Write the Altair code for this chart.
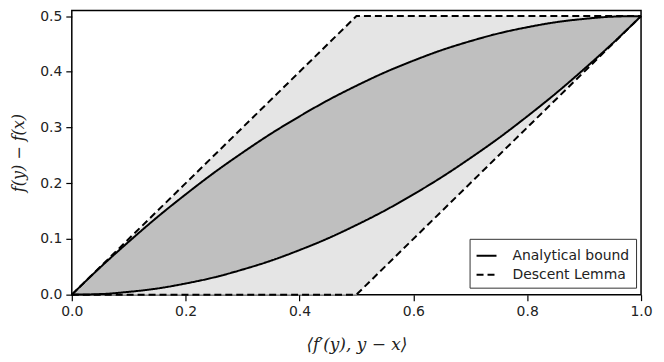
import altair as alt
import pandas as pd

# Grid of x positions for the analytical bound curves
xs = [0.0, 0.05, 0.1, 0.15, 0.2, 0.25, 0.3, 0.35, 0.4, 0.45, 0.5,
      0.55, 0.6, 0.65, 0.7, 0.75, 0.8, 0.85, 0.9, 0.95, 1.0]
upper_curve = [0.0, 0.049, 0.095, 0.139, 0.18, 0.219, 0.255, 0.289, 0.32, 0.349, 0.375,
               0.399, 0.42, 0.439, 0.455, 0.469, 0.48, 0.489, 0.495, 0.499, 0.5]
lower_curve = [0.0, 0.001, 0.005, 0.011, 0.02, 0.031, 0.045, 0.061, 0.08, 0.101, 0.125,
               0.151, 0.18, 0.211, 0.245, 0.281, 0.32, 0.361, 0.405, 0.451, 0.5]

# Descent lemma bounds (piecewise linear)
dl_x = [0.0, 0.5, 1.0]
dl_upper = [0.0, 0.5, 0.5]
dl_lower = [0.0, 0.0, 0.5]

series_names = ["Analytical bound", "Descent Lemma"]
x_ticks = [0.0, 0.2, 0.4, 0.6, 0.8, 1.0]
y_ticks = [0.0, 0.1, 0.2, 0.3, 0.4, 0.5]

band_light = pd.DataFrame({"x": dl_x, "hi": dl_upper, "lo": dl_lower})
band_dark = pd.DataFrame({"x": xs, "hi": upper_curve, "lo": lower_curve})

rows_a = []
for x, y in zip(xs, upper_curve):
    rows_a.append({"x": x, "y": y, "series": series_names[0], "part": "a_up"})
for x, y in zip(xs, lower_curve):
    rows_a.append({"x": x, "y": y, "series": series_names[0], "part": "a_lo"})
rows_d = []
for x, y in zip(dl_x, dl_upper):
    rows_d.append({"x": x, "y": y, "series": series_names[1], "part": "d_up"})
for x, y in zip(dl_x, dl_lower):
    rows_d.append({"x": x, "y": y, "series": series_names[1], "part": "d_lo"})
curves_df = pd.DataFrame(rows_a)
dashed_df = pd.DataFrame(rows_d)

xscale = alt.Scale(domain=[0, 1], nice=False, zero=False)
yscale = alt.Scale(domain=[0, 0.51], nice=False, zero=False)

xaxis = alt.Axis(values=x_ticks, format=".1f", title="⟨f′(y), y − x⟩", labelFlush=False,
                 titleFont="DejaVu Serif", titleFontStyle="italic", titleFontWeight="normal",
                 titleFontSize=17, titlePadding=18, titleColor="#222222")
yaxis = alt.Axis(values=y_ticks, format=".1f", title="f(y) − f(x)", labelFlush=False,
                 titleFont="DejaVu Serif", titleFontStyle="italic", titleFontWeight="normal",
                 titleFontSize=16, titlePadding=13, titleColor="#222222")

dash_scale = alt.Scale(domain=series_names, range=[[1, 0], [7, 4]])
legend = alt.Legend(
    title=None, orient="none", legendX=399, legendY=229,
    symbolType="M-1,0L1,0", symbolSize=400, symbolStrokeWidth=2,
    symbolStrokeColor="black", labelFontSize=14, labelFont="DejaVu Sans",
    labelColor="#222222", labelOffset=15, rowPadding=1,
    padding=6, strokeColor="#333333", fillColor="white", cornerRadius=0,
)

light = alt.Chart(band_light).mark_area(color="#e5e5e5", opacity=1).encode(
    x=alt.X("x:Q", scale=xscale, axis=xaxis),
    y=alt.Y("hi:Q", scale=yscale, axis=yaxis),
    y2="lo:Q",
)
dark = alt.Chart(band_dark).mark_area(color="#bfbfbf", opacity=1, interpolate="monotone").encode(
    x=alt.X("x:Q", scale=xscale),
    y=alt.Y("hi:Q", scale=yscale),
    y2="lo:Q",
)
curves = alt.Chart(curves_df).mark_line(color="black", strokeWidth=2, interpolate="monotone").encode(
    x=alt.X("x:Q", scale=xscale),
    y=alt.Y("y:Q", scale=yscale),
    detail="part:N",
    strokeDash=alt.StrokeDash("series:N", scale=dash_scale, legend=legend),
)
dashed = alt.Chart(dashed_df).mark_line(color="black", strokeWidth=2, interpolate="linear").encode(
    x=alt.X("x:Q", scale=xscale),
    y=alt.Y("y:Q", scale=yscale),
    detail="part:N",
    strokeDash=alt.StrokeDash("series:N", scale=dash_scale, legend=legend),
)

chart = alt.layer(light, dark, curves, dashed).properties(
    width=571, height=285,
    autosize="none",
    padding={"left": 64, "top": 2, "right": 15, "bottom": 60},
).configure_view(
    stroke="black", strokeWidth=1.5
).configure_axis(
    grid=False, domain=False, tickColor="black", tickSize=6, tickWidth=1.2,
    labelFont="DejaVu Sans", labelFontSize=14, labelColor="#222222", labelPadding=4,
)

chart.save("out.html", embed_options={"renderer": "svg", "actions": False})
